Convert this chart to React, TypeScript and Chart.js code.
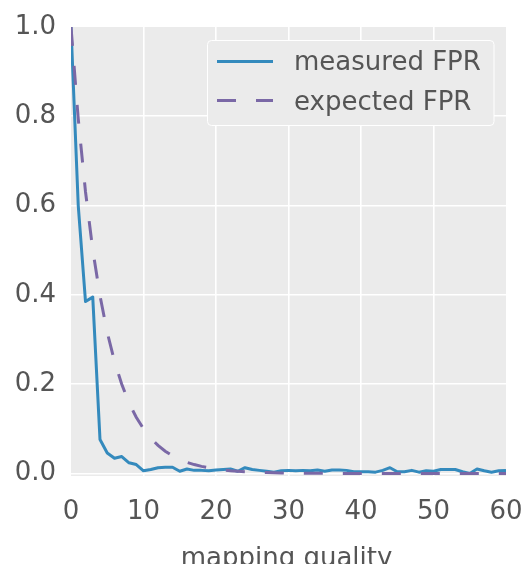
import React, { useEffect, useRef } from "react";
import { Chart, registerables } from "chart.js";

Chart.register(...registerables);

const qualities = [
  0, 1, 2, 3, 4, 5, 6, 7, 8, 9, 10, 11, 12, 13, 14, 15, 16, 17, 18, 19, 20,
  21, 22, 23, 24, 25, 26, 27, 28, 29, 30, 31, 32, 33, 34, 35, 36, 37, 38, 39, 40,
  41, 42, 43, 44, 45, 46, 47, 48, 49, 50, 51, 52, 53, 54, 55, 56, 57, 58, 59, 60,
];

const measuredFPR = [
  1.0, 0.6, 0.385, 0.395, 0.076, 0.046, 0.034, 0.038, 0.024, 0.02, 0.006,
  0.009, 0.013, 0.014, 0.014, 0.005, 0.01, 0.007, 0.007, 0.006, 0.008,
  0.009, 0.01, 0.005, 0.013, 0.009, 0.007, 0.005, 0.003, 0.006, 0.007,
  0.006, 0.007, 0.006, 0.008, 0.005, 0.008, 0.008, 0.007, 0.004, 0.004,
  0.004, 0.003, 0.007, 0.013, 0.004, 0.004, 0.007, 0.003, 0.006, 0.005,
  0.009, 0.009, 0.009, 0.004, 0.0, 0.01, 0.006, 0.003, 0.006, 0.007,
];

const expectedFPR = [
  1.0, 0.794, 0.631, 0.501, 0.398, 0.316, 0.251, 0.2, 0.158, 0.126, 0.1,
  0.079, 0.063, 0.05, 0.04, 0.032, 0.025, 0.02, 0.016, 0.013, 0.01,
  0.008, 0.006, 0.005, 0.004, 0.003, 0.0025, 0.002, 0.0016, 0.0013, 0.001,
  0.0008, 0.0006, 0.0005, 0.0004, 0.0003, 0.0003, 0.0002, 0.0002, 0.0001, 0.0001,
  0, 0, 0, 0, 0, 0, 0, 0, 0, 0,
  0, 0, 0, 0, 0, 0, 0, 0, 0, 0,
];

const seriesLabels = ["measured FPR", "expected FPR"];
const xTicks = [0, 10, 20, 30, 40, 50, 60];
const yTicks = [0, 0.2, 0.4, 0.6, 0.8, 1.0];
const xTitle = "mapping quality";

const FONT = '"DejaVu Sans", sans-serif';
const TEXT = "#555555";
const BG = "#EBEBEB";
const BLUE = "#348ABD";
const PURPLE = "#7A68A6";

export default function App() {
  const ref = useRef<HTMLCanvasElement>(null);

  useEffect(() => {
    const canvas = ref.current;
    if (!canvas) return;

    const bgPlugin = {
      id: "plotBg",
      beforeDraw(chart: any) {
        const { ctx, chartArea: a } = chart;
        ctx.save();
        ctx.fillStyle = BG;
        ctx.fillRect(a.left, a.top, a.right - a.left, a.bottom - a.top);
        ctx.restore();
      },
    };

    const legendPlugin = {
      id: "insideLegend",
      afterDatasetsDraw(chart: any) {
        const { ctx } = chart;
        const ds = chart.data.datasets;
        ctx.save();
        ctx.beginPath();
        ctx.roundRect(207.5, 40.5, 286.5, 85, 4);
        ctx.fillStyle = BG;
        ctx.fill();
        ctx.strokeStyle = "#FFFFFF";
        ctx.lineWidth = 1;
        ctx.stroke();
        const rows = [61.5, 100.5];
        const bases = [70, 109.5];
        ds.forEach((d: any, i: number) => {
          ctx.beginPath();
          ctx.strokeStyle = d.borderColor;
          ctx.lineWidth = 3;
          ctx.setLineDash(d.borderDash || []);
          ctx.moveTo(217, rows[i]);
          ctx.lineTo(273, rows[i]);
          ctx.stroke();
          ctx.setLineDash([]);
          ctx.font = `26px ${FONT}`;
          ctx.fillStyle = TEXT;
          ctx.textAlign = "left";
          ctx.textBaseline = "alphabetic";
          ctx.fillText(d.label, 294, bases[i]);
        });
        ctx.restore();
      },
    };

    const titlePlugin = {
      id: "xTitle",
      afterDraw(chart: any) {
        const { ctx, chartArea: a } = chart;
        ctx.save();
        ctx.font = `26px ${FONT}`;
        ctx.fillStyle = TEXT;
        ctx.textAlign = "center";
        ctx.textBaseline = "alphabetic";
        ctx.fillText(xTitle, (a.left + a.right) / 2 - 2, 566);
        ctx.restore();
      },
    };

    const chart = new Chart(canvas, {
      type: "line",
      data: {
        datasets: [
          {
            label: seriesLabels[0],
            data: qualities.map((q, i) => ({ x: q, y: measuredFPR[i] })),
            borderColor: BLUE,
            borderWidth: 3,
            pointRadius: 0,
            tension: 0,
            fill: false,
            borderJoinStyle: "round",
            order: 2,
          },
          {
            label: seriesLabels[1],
            data: qualities.map((q, i) => ({ x: q, y: expectedFPR[i] })),
            borderColor: PURPLE,
            borderWidth: 3,
            borderDash: [19, 20],
            pointRadius: 0,
            tension: 0,
            fill: false,
            order: 1,
          },
        ],
      },
      options: {
        animation: false,
        responsive: false,
        devicePixelRatio: 1,
        layout: { padding: { top: 27, right: 20, left: 0, bottom: 0 } },
        plugins: {
          legend: { display: false },
          tooltip: { enabled: false },
        },
        scales: {
          x: {
            type: "linear",
            min: 0,
            max: 60,
            afterBuildTicks: (s: any) => {
              s.ticks = xTicks.map((v) => ({ value: v }));
            },
            afterFit: (s: any) => {
              s.height = 88;
              s.paddingLeft = 0;
              s.paddingRight = 0;
            },
            border: { display: false },
            grid: {
              drawTicks: false,
              lineWidth: 1.6,
              color: (c: any) =>
                c.tick && (c.tick.value === 0 || c.tick.value === 60)
                  ? "rgba(0,0,0,0)"
                  : "#FFFFFF",
            },
            ticks: {
              color: TEXT,
              font: { family: FONT, size: 26 },
              padding: 21,
              maxRotation: 0,
              autoSkip: false,
              callback: (v: any) => String(v),
            },
          },
          y: {
            type: "linear",
            min: -0.0056,
            max: 1.0,
            afterBuildTicks: (s: any) => {
              s.ticks = yTicks.map((v) => ({ value: v }));
            },
            afterFit: (s: any) => {
              s.width = 71;
              s.paddingTop = 0;
              s.paddingBottom = 0;
            },
            border: { display: false },
            grid: {
              drawTicks: false,
              lineWidth: 1.6,
              color: (c: any) =>
                c.tick && c.tick.value === 1.0 ? "rgba(0,0,0,0)" : "#FFFFFF",
            },
            ticks: {
              color: TEXT,
              font: { family: FONT, size: 26 },
              padding: 15,
              callback: (v: any) => Number(v).toFixed(1),
            },
          },
        },
      },
      plugins: [bgPlugin, legendPlugin, titlePlugin],
    });

    return () => chart.destroy();
  }, []);

  return (
    <div style={{ position: "fixed", left: 0, top: 0, width: 526, height: 564 }}>
      <canvas ref={ref} width={526} height={564} style={{ display: "block" }} />
    </div>
  );
}
